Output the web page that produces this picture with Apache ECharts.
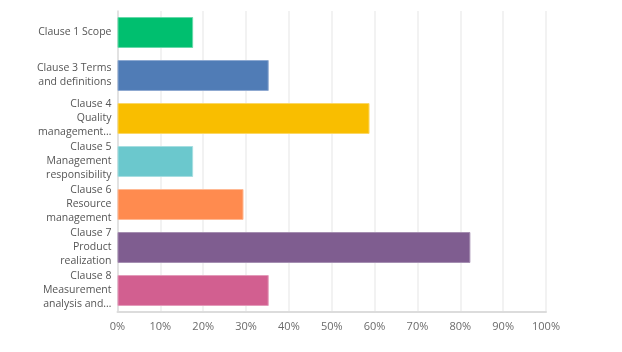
<!DOCTYPE html>
<html>
<head>
<meta charset="utf-8">
<script src="https://cdn.jsdelivr.net/npm/echarts@6/dist/echarts.min.js"></script>
<style>
  html, body { margin: 0; padding: 0; background: #fff; }
  #chart { width: 622px; height: 352px; }
</style>
</head>
<body>
<div id="chart"></div>
<script>
const categories = [
  'Clause 1 Scope',
  'Clause 3 Terms\nand definitions',
  'Clause 4\nQuality\nmanagement…',
  'Clause 5\nManagement\nresponsibility',
  'Clause 6\nResource\nmanagement',
  'Clause 7\nProduct\nrealization',
  'Clause 8\nMeasurement\nanalysis and…'
]
const percentValues = [17.65, 35.29, 58.82, 17.65, 29.41, 82.35, 35.29]
const barColors = ['#00bf6f', '#507cb6', '#f9be00', '#6bc8cd', '#ff8b4f', '#7f5d90', '#d25f90']
const barBorders = ['#66d9a9', '#8ea9d1', '#fbd766', '#a6dee1', '#ffb994', '#a58eb1', '#e39bba']
const xTicks = [0, 10, 20, 30, 40, 50, 60, 70, 80, 90, 100]

const chart = echarts.init(document.getElementById('chart'))

const option = {
  animation: false,
  backgroundColor: '#fff',
  grid: {
    left: 117.5,
    right: 76,
    top: 11,
    bottom: 40
  },
  xAxis: {
    type: 'value',
    min: xTicks[0],
    max: xTicks[xTicks.length - 1],
    interval: 10,
    axisLine: { show: true, lineStyle: { color: '#dcdcdc', width: 2 } },
    axisTick: { show: false },
    splitLine: { show: true, lineStyle: { color: '#eeeeee', width: 1.5 } },
    axisLabel: {
      formatter: '{value}%',
      color: '#6b6b6b',
      fontSize: 11,
      fontFamily: 'Open Sans',
      margin: 9
    }
  },
  yAxis: {
    type: 'category',
    inverse: true,
    data: categories,
    axisLine: { show: true, lineStyle: { color: '#dcdcdc', width: 1.5 } },
    axisTick: { show: false },
    axisLabel: {
      interval: 0,
      color: '#555555',
      fontSize: 10.5,
      fontFamily: 'Open Sans',
      lineHeight: 14,
      margin: 6,
      align: 'right'
    }
  },
  series: [
    {
      type: 'bar',
      barWidth: '72%',
      data: percentValues.map((v, i) => ({
        value: v,
        itemStyle: { color: barColors[i], borderColor: barBorders[i], borderWidth: 1 }
      }))
    }
  ]
}

chart.setOption(option)
</script>
</body>
</html>
